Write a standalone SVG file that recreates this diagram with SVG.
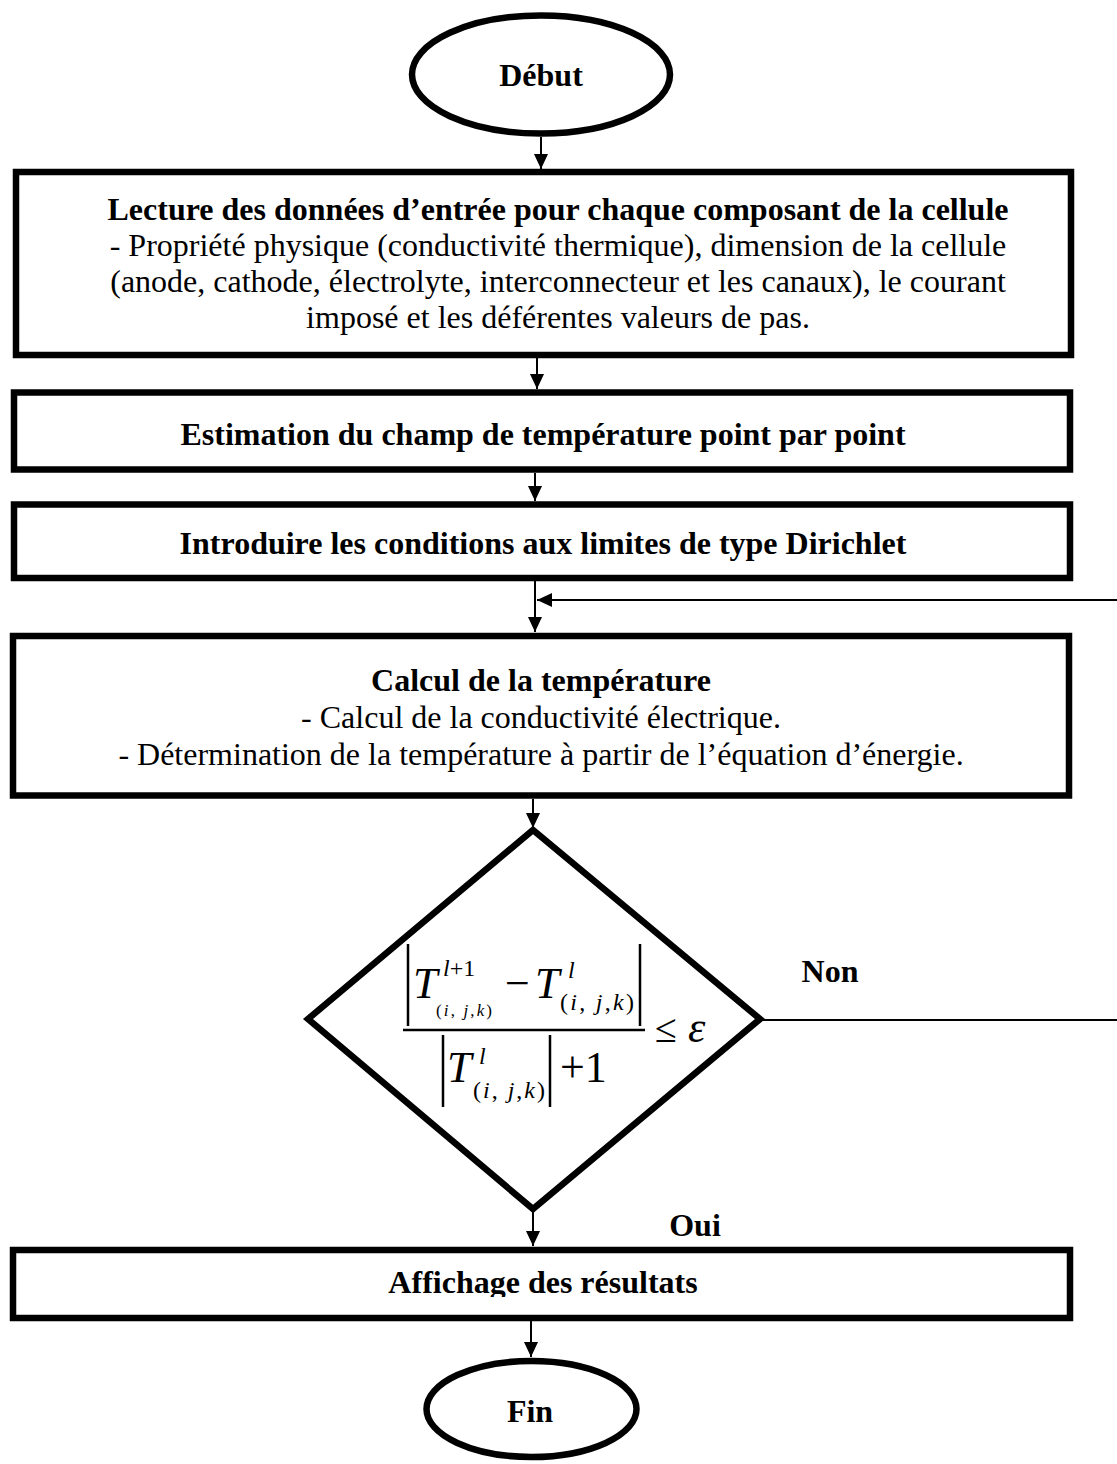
<svg xmlns="http://www.w3.org/2000/svg" width="1117" height="1464" viewBox="0 0 1117 1464">
<style>
.box{fill:#fff;stroke:#000;stroke-width:6.5}
.t{font-family:"Liberation Serif","Times New Roman",serif;font-size:32px;fill:#000;text-anchor:middle}
.b{font-weight:bold}
.m{font-family:"Liberation Serif","Times New Roman",serif;fill:#000}
.i{font-style:italic}
.c{stroke:#000;stroke-width:2;fill:none}
.bar{stroke:#000;stroke-width:2.5}
</style>
<defs>
<marker id="ah" markerWidth="15" markerHeight="14" refX="15" refY="7" orient="auto" markerUnits="userSpaceOnUse">
<path d="M0,0 L15,7 L0,14 Z" fill="#000"/>
</marker>
<clipPath id="clip5"><rect x="16" y="1253" width="1051" height="44"/></clipPath>
</defs>
<rect width="1117" height="1464" fill="#fff"/>

<g id="connectors">
<line class="c" x1="541" y1="137" x2="541" y2="169" marker-end="url(#ah)"/>
<line class="c" x1="537" y1="358" x2="537" y2="389" marker-end="url(#ah)"/>
<line class="c" x1="535" y1="473" x2="535" y2="501" marker-end="url(#ah)"/>
<line class="c" x1="535" y1="581" x2="535" y2="632" marker-end="url(#ah)"/>
<line class="c" x1="1117" y1="600" x2="537" y2="600" marker-end="url(#ah)"/>
<line class="c" x1="533" y1="799" x2="533" y2="828" marker-end="url(#ah)"/>
<line class="c" x1="760" y1="1020" x2="1117" y2="1020"/>
<line class="c" x1="533" y1="1209" x2="533" y2="1246" marker-end="url(#ah)"/>
<line class="c" x1="531" y1="1321" x2="531" y2="1357" marker-end="url(#ah)"/>
</g>

<g id="start">
<ellipse class="box" cx="541" cy="74.5" rx="129" ry="59"/>
<text class="t b" x="541" y="86">Début</text>
</g>

<g id="read">
<rect class="box" x="16" y="172" width="1055" height="183"/>
<text class="t b" x="558" y="220">Lecture des données d’entrée pour chaque composant de la cellule</text>
<text class="t" x="558" y="256">- Propriété physique (conductivité thermique), dimension de la cellule</text>
<text class="t" x="558" y="292">(anode, cathode, électrolyte, interconnecteur et les canaux), le courant</text>
<text class="t" x="558" y="328">imposé et les déférentes valeurs de pas.</text>
</g>

<g id="estimate">
<rect class="box" x="14" y="392.5" width="1056" height="77"/>
<text class="t b" x="543" y="445">Estimation du champ de température point par point</text>
</g>

<g id="boundary">
<rect class="box" x="14" y="504.5" width="1056" height="73.5"/>
<text class="t b" x="543" y="554">Introduire les conditions aux limites de type Dirichlet</text>
</g>

<g id="compute">
<rect class="box" x="13" y="636" width="1056" height="159.5"/>
<text class="t b" x="541" y="691">Calcul de la température</text>
<text class="t" x="541" y="728">- Calcul de la conductivité électrique.</text>
<text class="t" x="541" y="765">- Détermination de la température à partir de l’équation d’énergie.</text>
</g>

<g id="test">
<polygon class="box" points="533,830 760,1019 533,1209 308,1019"/>
<line class="bar" x1="408" y1="944" x2="408" y2="1026"/>
<text class="m i" x="413" y="998" font-size="44">T</text>
<text class="m" x="443" y="976" font-size="24"><tspan class="i">l</tspan>+1</text>
<text class="m" x="436" y="1016" font-size="17" textLength="56" lengthAdjust="spacing">(<tspan class="i">i</tspan>, <tspan class="i">j</tspan>,<tspan class="i">k</tspan>)</text>
<text class="m" x="505" y="998" font-size="44">−</text>
<text class="m i" x="535" y="998" font-size="44">T</text>
<text class="m i" x="568" y="978" font-size="24">l</text>
<text class="m" x="560" y="1010" font-size="24" textLength="74" lengthAdjust="spacing">(<tspan class="i">i</tspan>, <tspan class="i">j</tspan>,<tspan class="i">k</tspan>)</text>
<line class="bar" x1="640" y1="944" x2="640" y2="1026"/>
<line class="bar" x1="403" y1="1030" x2="645" y2="1030"/>
<line class="bar" x1="443" y1="1035" x2="443" y2="1107"/>
<text class="m i" x="447" y="1082" font-size="44">T</text>
<text class="m i" x="479" y="1064" font-size="24">l</text>
<text class="m" x="473" y="1098" font-size="24" textLength="72" lengthAdjust="spacing">(<tspan class="i">i</tspan>, <tspan class="i">j</tspan>,<tspan class="i">k</tspan>)</text>
<line class="bar" x1="550" y1="1035" x2="550" y2="1107"/>
<text class="m" x="560" y="1082" font-size="44">+1</text>
<text class="m" x="655" y="1042" font-size="40">≤</text>
<text class="m i" x="688" y="1042" font-size="44">ε</text>
</g>

<g id="labels">
<text class="t b" x="830" y="982">Non</text>
<text class="t b" x="695" y="1236">Oui</text>
</g>

<g id="display">
<rect class="box" x="13" y="1250" width="1057" height="68"/>
<text class="t b" x="543" y="1293" clip-path="url(#clip5)">Affichage des résultats</text>
</g>

<g id="end">
<ellipse class="box" cx="531.5" cy="1409" rx="105" ry="48"/>
<text class="t b" x="530" y="1422">Fin</text>
</g>
</svg>
